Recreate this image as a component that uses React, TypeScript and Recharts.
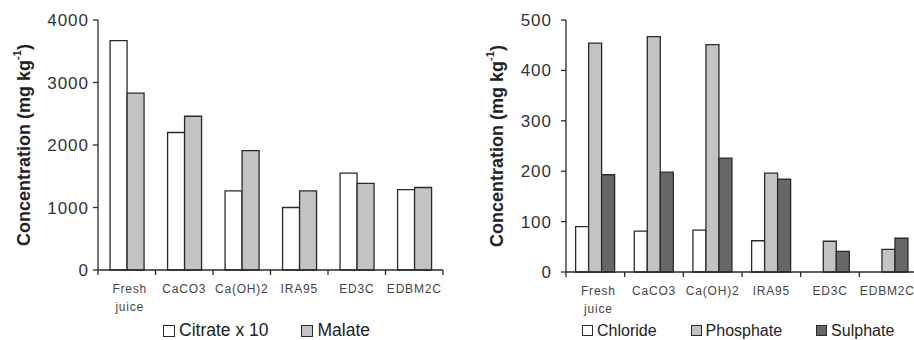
import React from 'react';
import { BarChart, Bar, XAxis, YAxis, Legend, Label } from 'recharts';

const categories = ['Fresh juice', 'CaCO3', 'Ca(OH)2', 'IRA95', 'ED3C', 'EDBM2C'];
const citrateX10 = [3670, 2200, 1265, 1000, 1550, 1285];
const malate = [2830, 2460, 1910, 1265, 1385, 1320];
const chloride: (number | null)[] = [90, 81, 83, 62, null, null];
const phosphate = [454, 467, 451, 196, 61, 45];
const sulphate = [193, 198, 226, 184, 41, 67];
const leftTicks = [0, 1000, 2000, 3000, 4000];
const rightTicks = [0, 100, 200, 300, 400, 500];

const leftData = categories.map((cat, i) => ({ cat, citrate: citrateX10[i], malate: malate[i] }));
const rightData = categories.map((cat, i) => ({
  cat,
  chloride: chloride[i],
  phosphate: phosphate[i],
  sulphate: sulphate[i],
}));

const AXIS = '#2a2a2a';
const FONT = "Arial, 'Liberation Sans', Helvetica, sans-serif";
const COLORS: Record<string, string> = {
  citrate: '#ffffff',
  malate: '#c3c3c3',
  chloride: '#ffffff',
  phosphate: '#c3c3c3',
  sulphate: '#676767',
};

const LEFT_W = 460;
const LEFT_MARGIN = { top: 20, right: 17, bottom: 0, left: 0 };
const LEFT_YW = 98;
const RIGHT_W = 470;
const RIGHT_MARGIN = { top: 20, right: 12, bottom: 0, left: 0 };
const RIGHT_YW = 106;
const H = 340;
const RIGHT_VISIBLE = 914 - 460;

const leftBand = (LEFT_W - LEFT_MARGIN.left - LEFT_MARGIN.right - LEFT_YW) / categories.length;
const rightBand = (RIGHT_W - RIGHT_MARGIN.left - RIGHT_MARGIN.right - RIGHT_YW) / categories.length;

function CatTick(props: any) {
  const { x, y, payload, index, visibleTicksCount, band, maxX } = props;
  const half = band / 2;
  const lines = String(payload.value).split(' ');
  const last = index === (visibleTicksCount ?? categories.length) - 1;
  const fs = 12;
  const ls = 0.8;
  const estHalf = Math.max(...lines.map((l) => l.length)) * (fs * 0.62 + ls) / 2;
  let tx = x + (lines.length > 1 ? 3 : 0);
  if (maxX !== undefined && tx + estHalf > maxX) tx = maxX - estHalf;
  return (
    <g>
      <line x1={x - half} x2={x - half} y1={y} y2={y + 5} stroke={AXIS} strokeWidth={1.3} />
      {last && <line x1={x + half} x2={x + half} y1={y} y2={y + 5} stroke={AXIS} strokeWidth={1.3} />}
      <text x={tx} y={y + 23} textAnchor="middle" fontSize={fs} fill="#444" letterSpacing={ls} fontFamily={FONT}>
        {lines.map((l, i) => (
          <tspan key={i} x={tx} dy={i === 0 ? 0 : 18}>
            {l}
          </tspan>
        ))}
      </text>
    </g>
  );
}

function YLabel(props: any) {
  const { viewBox, cx } = props;
  const vb = viewBox || { x: 0, y: 20, width: 0, height: 250 };
  const cy = vb.y + vb.height / 2;
  const x = vb.x + cx;
  return (
    <text
      transform={`rotate(-90 ${x} ${cy})`}
      x={x}
      y={cy}
      textAnchor="middle"
      dominantBaseline="central"
      fontWeight="bold"
      fontSize={18}
      fill="#222"
      fontFamily={FONT}
    >
      Concentration (mg kg
      <tspan dy={-7} fontSize={11}>
        -1
      </tspan>
      <tspan dy={7}>)</tspan>
    </text>
  );
}

function LegendContent(props: any) {
  const { payload, fontSize, box, gap } = props;
  return (
    <div style={{ display: 'flex', alignItems: 'center', whiteSpace: 'nowrap', fontFamily: FONT, height: 17 }}>
      {(payload || []).map((entry: any, i: number) => (
        <div key={i} style={{ display: 'flex', alignItems: 'center', marginRight: gap, height: 17 }}>
          <span
            style={{
              display: 'inline-block',
              width: box,
              height: box,
              boxSizing: 'border-box',
              border: `1.4px solid ${AXIS}`,
              background: COLORS[entry.dataKey] ?? entry.color,
              marginRight: 4,
            }}
          />
          <span style={{ fontSize, color: '#222', lineHeight: '17px' }}>{entry.value}</span>
        </div>
      ))}
    </div>
  );
}

export default function App() {
  return (
    <div
      style={{
        position: 'absolute',
        left: 0,
        top: 0,
        width: 914,
        height: 340,
        overflow: 'hidden',
        background: '#fff',
        fontFamily: FONT,
      }}
    >
      <div style={{ position: 'absolute', left: 0, top: 0 }}>
        <BarChart
          width={LEFT_W}
          height={H}
          data={leftData}
          margin={LEFT_MARGIN}
          barCategoryGap="21%"
          barGap={0}
        >
          <XAxis
            dataKey="cat"
            height={70}
            interval={0}
            tickSize={0}
            tickMargin={0}
            tickLine={false}
            axisLine={{ stroke: AXIS, strokeWidth: 1.3 }}
            tick={<CatTick band={leftBand} />}
          />
          <XAxis xAxisId="top" dataKey="cat" orientation="top" height={0} tick={false} tickLine={false} axisLine={{ stroke: AXIS, strokeWidth: 1.3 }} />
          <YAxis
            width={LEFT_YW}
            domain={[0, 4000]}
            ticks={leftTicks}
            interval={0}
            tickSize={5}
            tickMargin={4}
            axisLine={{ stroke: AXIS, strokeWidth: 1.3 }}
            tickLine={{ stroke: AXIS, strokeWidth: 1.3 }}
            tick={{ fontSize: 17, fill: '#333', letterSpacing: 1, fontFamily: FONT }}
          >
            <Label content={(p: any) => <YLabel {...p} cx={24} />} />
          </YAxis>
          <YAxis yAxisId="r" orientation="right" width={0} domain={[0, 4000]} tick={false} tickLine={false} axisLine={{ stroke: AXIS, strokeWidth: 1.3 }} />
          <Legend
            layout="horizontal"
            verticalAlign="middle"
            align="center"
            wrapperStyle={{ top: 322, left: 163, width: 'auto', height: 17 }}
            content={<LegendContent fontSize={17.5} box={12} gap={33} />}
          />
          <Bar dataKey="citrate" name="Citrate x 10" fill={COLORS.citrate} stroke={AXIS} strokeWidth={1.3} isAnimationActive={false} />
          <Bar dataKey="malate" name="Malate" fill={COLORS.malate} stroke={AXIS} strokeWidth={1.3} isAnimationActive={false} />
        </BarChart>
      </div>
      <div style={{ position: 'absolute', left: 460, top: 0 }}>
        <BarChart
          width={RIGHT_W}
          height={H}
          data={rightData}
          margin={RIGHT_MARGIN}
          barCategoryGap="16.4%"
          barGap={0}
        >
          <XAxis
            dataKey="cat"
            height={68}
            interval={0}
            tickSize={0}
            tickMargin={0}
            tickLine={false}
            axisLine={{ stroke: AXIS, strokeWidth: 1.3 }}
            tick={<CatTick band={rightBand} maxX={RIGHT_VISIBLE - 2} />}
          />
          <XAxis xAxisId="top" dataKey="cat" orientation="top" height={0} tick={false} tickLine={false} axisLine={{ stroke: AXIS, strokeWidth: 1.3 }} />
          <YAxis
            width={RIGHT_YW}
            domain={[0, 500]}
            ticks={rightTicks}
            interval={0}
            tickSize={5}
            tickMargin={9}
            axisLine={{ stroke: AXIS, strokeWidth: 1.3 }}
            tickLine={{ stroke: AXIS, strokeWidth: 1.3 }}
            tick={{ fontSize: 17, fill: '#333', letterSpacing: 1, fontFamily: FONT }}
          >
            <Label content={(p: any) => <YLabel {...p} cx={37} />} />
          </YAxis>
          <Legend
            layout="horizontal"
            verticalAlign="middle"
            align="center"
            wrapperStyle={{ top: 322, left: 122, width: 'auto', height: 17 }}
            content={<LegendContent fontSize={16} box={11} gap={34} />}
          />
          <Bar dataKey="chloride" name="Chloride" fill={COLORS.chloride} stroke={AXIS} strokeWidth={1.3} isAnimationActive={false} />
          <Bar dataKey="phosphate" name="Phosphate" fill={COLORS.phosphate} stroke={AXIS} strokeWidth={1.3} isAnimationActive={false} />
          <Bar dataKey="sulphate" name="Sulphate" fill={COLORS.sulphate} stroke={AXIS} strokeWidth={1.3} isAnimationActive={false} />
        </BarChart>
      </div>
    </div>
  );
}
